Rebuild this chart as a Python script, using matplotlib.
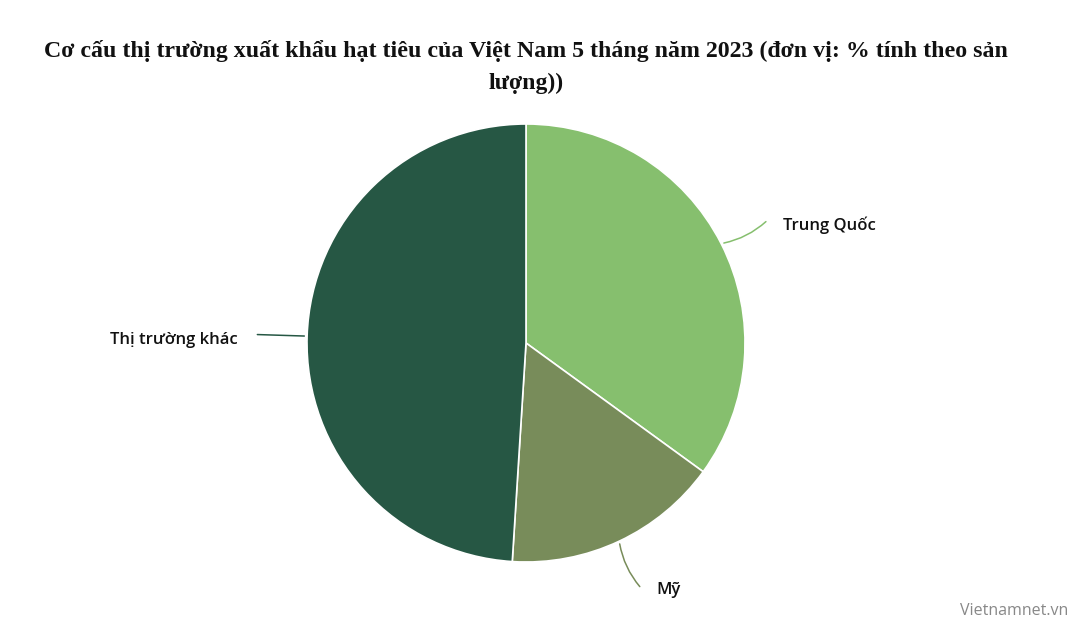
import numpy as np
import matplotlib
matplotlib.use("Agg")
import matplotlib.pyplot as plt

# Cơ cấu thị trường xuất khẩu hạt tiêu (% theo sản lượng)
markets = ["Trung Quốc", "Mỹ", "Thị trường khác"]
shares = [35, 16, 49]
colors = ["#86bf6e", "#788c5a", "#265744"]

title = "Cơ cấu thị trường xuất khẩu hạt tiêu của Việt Nam 5 tháng năm 2023 (đơn vị: % tính theo sản\nlượng))"

W, H = 1075, 636
fig = plt.figure(figsize=(W / 100, H / 100), dpi=100)
ax = fig.add_axes([0, 0, 1, 1])

cx, cy, r = 526, H - 343, 219
wedges, _ = ax.pie(shares, colors=colors, startangle=90, counterclock=False,
                   center=(cx, cy), radius=r, frame=True,
                   wedgeprops=dict(edgecolor="white", linewidth=1.2))
ax.set_xlim(0, W)
ax.set_ylim(0, H)
ax.set_aspect("equal")
ax.axis("off")

for w, name, col in zip(wedges, markets, colors):
    ang = np.deg2rad((w.theta1 + w.theta2) / 2)
    x0, y0 = cx + r * np.cos(ang), cy + r * np.sin(ang)
    x1, y1 = cx + 1.24 * r * np.cos(ang), cy + 1.24 * r * np.sin(ang)
    right = np.cos(ang) >= 0
    ax.annotate("", xy=(x0, y0), xytext=(x1, y1),
                arrowprops=dict(arrowstyle="-", color=col, lw=1.1,
                                connectionstyle="arc3,rad=-0.15" if right else "arc3,rad=0"))
    # label a little below the connector end, like the original
    dy = -6 if np.sin(ang) > -0.5 else -1
    ax.text(x1 + (15 if right else -17), y1 + dy, name, ha="left" if right else "right",
            va="center", fontsize=12, family="Open Sans", fontweight="semibold",
            color="#111111")

fig.text(526 / W, 1 - 40 / H, title, ha="center", va="top", fontsize=17.2,
         family="Liberation Serif", fontweight="bold", linespacing=1.68, color="#111111")
fig.text(1068 / W, 1 - 611 / H, "Vietnamnet.vn", ha="right", va="center",
         fontsize=11.5, family="Open Sans", color="#888888")

fig.savefig("out.png", dpi=100)
